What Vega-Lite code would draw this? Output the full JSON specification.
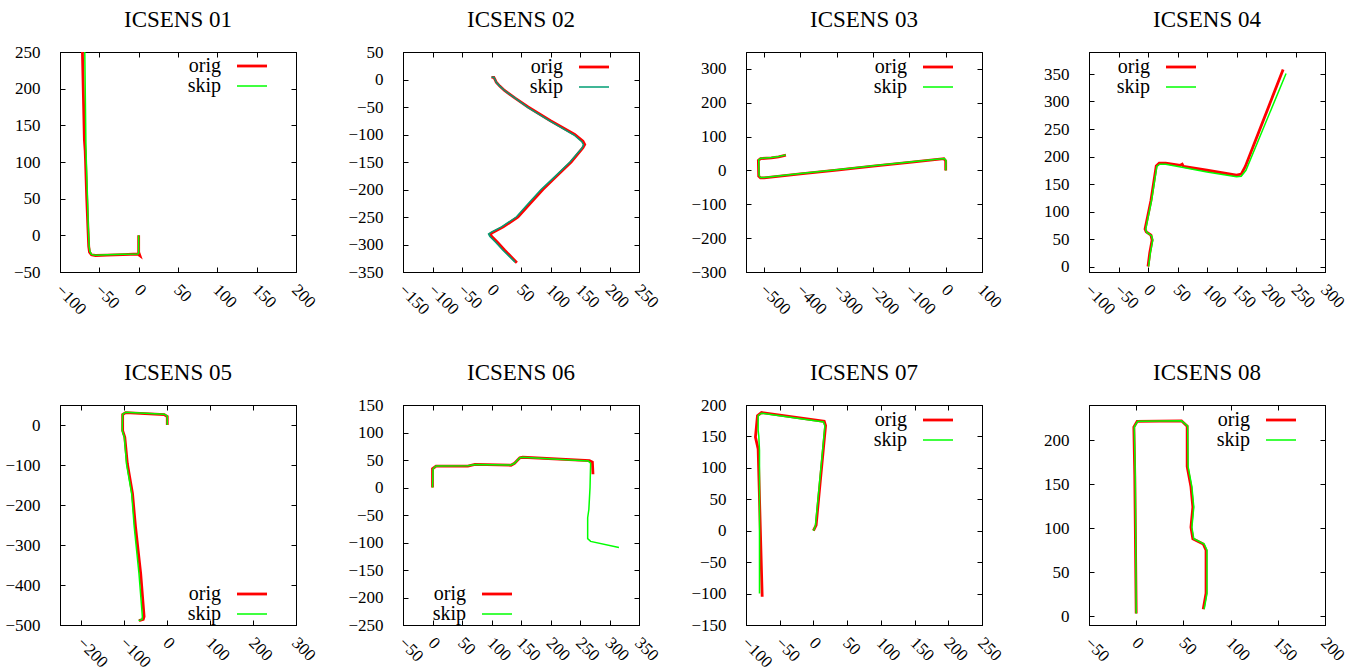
{
  "$schema": "https://vega.github.io/schema/vega-lite/v6.json",
  "background": "white",
  "padding": {"left": 4, "top": 8, "right": 5, "bottom": 5},
  "config": {
    "font": "Liberation Serif",
    "view": {"stroke": "black", "strokeWidth": 1},
    "style": {"guide-label": {"font": "Liberation Serif", "fontSize": 17, "fill": "black"}},
    "axis": {"grid": false, "domainColor": "black", "domainWidth": 1, "tickColor": "black", "tickSize": -5, "tickWidth": 1, "labelFont": "Liberation Serif", "labelFontSize": 17, "labelColor": "black", "labelFlush": false, "labelOverlap": false, "labelBound": false},
    "axisX": {"labelAngle": 45, "labelAlign": "left", "labelBaseline": "middle", "labelPadding": 20, "labelOffset": -2},
    "axisY": {"labelPadding": 25},
    "title": {"font": "Liberation Serif", "fontSize": 23, "fontWeight": "normal", "color": "black", "offset": 20, "anchor": "middle", "frame": "group"},
    "legend": {"labelFont": "Liberation Serif", "labelFontSize": 20, "labelColor": "black", "labelAlign": "right", "labelOffset": -41, "labelBaseline": "middle", "symbolType": "M-1.5,0H1.5", "symbolSize": 400, "symbolStrokeWidth": 2, "rowPadding": 0, "padding": 0, "labelLimit": 200}
  },
  "datasets": {
    "d1": [
      {"s":"orig","i":0,"x":0,"y":0},{"s":"orig","i":1,"x":0,"y":-23},{"s":"orig","i":2,"x":1.5,"y":-27.5},{"s":"orig","i":3,"x":-1,"y":-25.5},{"s":"orig","i":4,"x":-20,"y":-26.3},{"s":"orig","i":5,"x":-40,"y":-27},{"s":"orig","i":6,"x":-55,"y":-27.5},{"s":"orig","i":7,"x":-60,"y":-26.5},{"s":"orig","i":8,"x":-62.5,"y":-23},{"s":"orig","i":9,"x":-63.5,"y":-15},{"s":"orig","i":10,"x":-64.5,"y":10},{"s":"orig","i":11,"x":-66,"y":50},{"s":"orig","i":12,"x":-67.5,"y":100},{"s":"orig","i":13,"x":-68,"y":115},{"s":"orig","i":14,"x":-69,"y":130},{"s":"orig","i":15,"x":-71.5,"y":250},
      {"s":"skip","i":0,"x":0,"y":0},{"s":"skip","i":1,"x":0,"y":-24},{"s":"skip","i":2,"x":-1,"y":-25.5},{"s":"skip","i":3,"x":-20,"y":-25.8},{"s":"skip","i":4,"x":-40,"y":-26.5},{"s":"skip","i":5,"x":-55,"y":-27},{"s":"skip","i":6,"x":-60,"y":-26},{"s":"skip","i":7,"x":-62,"y":-22},{"s":"skip","i":8,"x":-63,"y":-15},{"s":"skip","i":9,"x":-64,"y":10},{"s":"skip","i":10,"x":-65,"y":50},{"s":"skip","i":11,"x":-66.5,"y":100},{"s":"skip","i":12,"x":-67,"y":120},{"s":"skip","i":13,"x":-68.5,"y":250}
    ],
    "d2": [
      {"s":"orig","i":0,"x":0,"y":4},{"s":"orig","i":1,"x":4,"y":4},{"s":"orig","i":2,"x":6,"y":0},{"s":"orig","i":3,"x":8,"y":-5},{"s":"orig","i":4,"x":14,"y":-12},{"s":"orig","i":5,"x":22,"y":-20},{"s":"orig","i":6,"x":40,"y":-34},{"s":"orig","i":7,"x":62,"y":-50},{"s":"orig","i":8,"x":100,"y":-75},{"s":"orig","i":9,"x":141,"y":-100},{"s":"orig","i":10,"x":155,"y":-112},{"s":"orig","i":11,"x":158,"y":-118},{"s":"orig","i":12,"x":155,"y":-124},{"s":"orig","i":13,"x":135,"y":-150},{"s":"orig","i":14,"x":110,"y":-176},{"s":"orig","i":15,"x":87,"y":-200},{"s":"orig","i":16,"x":65,"y":-226},{"s":"orig","i":17,"x":45,"y":-250},{"s":"orig","i":18,"x":20,"y":-268},{"s":"orig","i":19,"x":2,"y":-278},{"s":"orig","i":20,"x":-2,"y":-281},{"s":"orig","i":21,"x":0,"y":-285},{"s":"orig","i":22,"x":10,"y":-296},{"s":"orig","i":23,"x":22,"y":-310},{"s":"orig","i":24,"x":43,"y":-333},
      {"s":"skip","i":0,"x":0,"y":4},{"s":"skip","i":1,"x":4,"y":4},{"s":"skip","i":2,"x":6,"y":0},{"s":"skip","i":3,"x":8,"y":-5},{"s":"skip","i":4,"x":14,"y":-12},{"s":"skip","i":5,"x":22,"y":-20},{"s":"skip","i":6,"x":40,"y":-34},{"s":"skip","i":7,"x":62,"y":-51},{"s":"skip","i":8,"x":100,"y":-76},{"s":"skip","i":9,"x":140,"y":-101},{"s":"skip","i":10,"x":153,"y":-113},{"s":"skip","i":11,"x":156,"y":-119},{"s":"skip","i":12,"x":153,"y":-125},{"s":"skip","i":13,"x":133,"y":-150},{"s":"skip","i":14,"x":107,"y":-177},{"s":"skip","i":15,"x":84,"y":-200},{"s":"skip","i":16,"x":62,"y":-226},{"s":"skip","i":17,"x":42,"y":-250},{"s":"skip","i":18,"x":17,"y":-268},{"s":"skip","i":19,"x":-1,"y":-278},{"s":"skip","i":20,"x":-5,"y":-281},{"s":"skip","i":21,"x":-3,"y":-285},{"s":"skip","i":22,"x":7,"y":-296},{"s":"skip","i":23,"x":19,"y":-310},{"s":"skip","i":24,"x":40,"y":-332}
    ],
    "d3": [
      {"s":"orig","i":0,"x":0,"y":0},{"s":"orig","i":1,"x":0,"y":28},{"s":"orig","i":2,"x":-5,"y":35},{"s":"orig","i":3,"x":-100,"y":24},{"s":"orig","i":4,"x":-200,"y":13},{"s":"orig","i":5,"x":-300,"y":1},{"s":"orig","i":6,"x":-400,"y":-10},{"s":"orig","i":7,"x":-500,"y":-22},{"s":"orig","i":8,"x":-510,"y":-22},{"s":"orig","i":9,"x":-515,"y":-17},{"s":"orig","i":10,"x":-516,"y":30},{"s":"orig","i":11,"x":-510,"y":35},{"s":"orig","i":12,"x":-480,"y":37},{"s":"orig","i":13,"x":-460,"y":40},{"s":"orig","i":14,"x":-440,"y":45},
      {"s":"skip","i":0,"x":0,"y":0},{"s":"skip","i":1,"x":1,"y":29},{"s":"skip","i":2,"x":-4,"y":35},{"s":"skip","i":3,"x":-100,"y":25},{"s":"skip","i":4,"x":-200,"y":14},{"s":"skip","i":5,"x":-300,"y":2},{"s":"skip","i":6,"x":-400,"y":-9},{"s":"skip","i":7,"x":-500,"y":-21},{"s":"skip","i":8,"x":-510,"y":-21},{"s":"skip","i":9,"x":-514,"y":-15},{"s":"skip","i":10,"x":-515,"y":31},{"s":"skip","i":11,"x":-509,"y":36},{"s":"skip","i":12,"x":-480,"y":38},{"s":"skip","i":13,"x":-460,"y":41},{"s":"skip","i":14,"x":-440,"y":46}
    ],
    "d4": [
      {"s":"orig","i":0,"x":0,"y":0},{"s":"orig","i":1,"x":3,"y":25},{"s":"orig","i":2,"x":7,"y":48},{"s":"orig","i":3,"x":5,"y":57},{"s":"orig","i":4,"x":-3,"y":63},{"s":"orig","i":5,"x":-5,"y":68},{"s":"orig","i":6,"x":5,"y":120},{"s":"orig","i":7,"x":14,"y":183},{"s":"orig","i":8,"x":19,"y":188},{"s":"orig","i":9,"x":30,"y":188},{"s":"orig","i":10,"x":55,"y":184},{"s":"orig","i":11,"x":58,"y":186},{"s":"orig","i":12,"x":60,"y":182},{"s":"orig","i":13,"x":100,"y":175},{"s":"orig","i":14,"x":150,"y":166},{"s":"orig","i":15,"x":158,"y":168},{"s":"orig","i":16,"x":165,"y":182},{"s":"orig","i":17,"x":229,"y":358},
      {"s":"skip","i":0,"x":1,"y":0},{"s":"skip","i":1,"x":4,"y":25},{"s":"skip","i":2,"x":8,"y":48},{"s":"skip","i":3,"x":6,"y":56},{"s":"skip","i":4,"x":-2,"y":62},{"s":"skip","i":5,"x":-4,"y":67},{"s":"skip","i":6,"x":6,"y":120},{"s":"skip","i":7,"x":15,"y":182},{"s":"skip","i":8,"x":20,"y":186},{"s":"skip","i":9,"x":30,"y":186},{"s":"skip","i":10,"x":60,"y":180},{"s":"skip","i":11,"x":100,"y":172},{"s":"skip","i":12,"x":150,"y":163},{"s":"skip","i":13,"x":158,"y":164},{"s":"skip","i":14,"x":166,"y":175},{"s":"skip","i":15,"x":234,"y":351}
    ],
    "d5": [
      {"s":"orig","i":0,"x":0,"y":0},{"s":"orig","i":1,"x":0,"y":21},{"s":"orig","i":2,"x":-7,"y":26},{"s":"orig","i":3,"x":-97,"y":31},{"s":"orig","i":4,"x":-104,"y":26},{"s":"orig","i":5,"x":-104,"y":-14},{"s":"orig","i":6,"x":-99,"y":-31},{"s":"orig","i":7,"x":-93,"y":-97},{"s":"orig","i":8,"x":-81,"y":-172},{"s":"orig","i":9,"x":-74,"y":-255},{"s":"orig","i":10,"x":-62,"y":-371},{"s":"orig","i":11,"x":-54,"y":-479},{"s":"orig","i":12,"x":-56,"y":-486},{"s":"orig","i":13,"x":-66,"y":-489},
      {"s":"skip","i":0,"x":0,"y":0},{"s":"skip","i":1,"x":0,"y":22},{"s":"skip","i":2,"x":-7,"y":27},{"s":"skip","i":3,"x":-97,"y":32},{"s":"skip","i":4,"x":-104,"y":27},{"s":"skip","i":5,"x":-105,"y":-14},{"s":"skip","i":6,"x":-100,"y":-31},{"s":"skip","i":7,"x":-95,"y":-97},{"s":"skip","i":8,"x":-83,"y":-172},{"s":"skip","i":9,"x":-77,"y":-255},{"s":"skip","i":10,"x":-66,"y":-371},{"s":"skip","i":11,"x":-58,"y":-479},{"s":"skip","i":12,"x":-59,"y":-486},{"s":"skip","i":13,"x":-67,"y":-489}
    ],
    "d6": [
      {"s":"orig","i":0,"x":0,"y":0},{"s":"orig","i":1,"x":0,"y":34},{"s":"orig","i":2,"x":6,"y":39},{"s":"orig","i":3,"x":60,"y":39},{"s":"orig","i":4,"x":72,"y":42},{"s":"orig","i":5,"x":133,"y":40.5},{"s":"orig","i":6,"x":139,"y":44},{"s":"orig","i":7,"x":148,"y":54},{"s":"orig","i":8,"x":153,"y":55},{"s":"orig","i":9,"x":266,"y":49},{"s":"orig","i":10,"x":271,"y":46},{"s":"orig","i":11,"x":272,"y":24},
      {"s":"skip","i":0,"x":0,"y":0},{"s":"skip","i":1,"x":1,"y":34},{"s":"skip","i":2,"x":6,"y":39},{"s":"skip","i":3,"x":60,"y":39.5},{"s":"skip","i":4,"x":72,"y":42},{"s":"skip","i":5,"x":133,"y":41},{"s":"skip","i":6,"x":139,"y":44},{"s":"skip","i":7,"x":148,"y":54},{"s":"skip","i":8,"x":153,"y":55},{"s":"skip","i":9,"x":264,"y":48},{"s":"skip","i":10,"x":268,"y":44},{"s":"skip","i":11,"x":267,"y":0},{"s":"skip","i":12,"x":265,"y":-40},{"s":"skip","i":13,"x":263,"y":-55},{"s":"skip","i":14,"x":263,"y":-93},{"s":"skip","i":15,"x":268,"y":-98},{"s":"skip","i":16,"x":316,"y":-109}
    ],
    "d7": [
      {"s":"orig","i":0,"x":0,"y":0},{"s":"orig","i":1,"x":4,"y":9},{"s":"orig","i":2,"x":18,"y":167},{"s":"orig","i":3,"x":16,"y":174},{"s":"orig","i":4,"x":-77,"y":188},{"s":"orig","i":5,"x":-83,"y":183},{"s":"orig","i":6,"x":-85,"y":160},{"s":"orig","i":7,"x":-86,"y":149},{"s":"orig","i":8,"x":-82,"y":130},{"s":"orig","i":9,"x":-76,"y":-105},
      {"s":"skip","i":0,"x":0,"y":0},{"s":"skip","i":1,"x":3,"y":8},{"s":"skip","i":2,"x":17,"y":167},{"s":"skip","i":3,"x":15,"y":173},{"s":"skip","i":4,"x":-77,"y":187},{"s":"skip","i":5,"x":-82,"y":183},{"s":"skip","i":6,"x":-82,"y":160},{"s":"skip","i":7,"x":-81,"y":150},{"s":"skip","i":8,"x":-80,"y":128},{"s":"skip","i":9,"x":-80,"y":-100}
    ],
    "d8": [
      {"s":"orig","i":0,"x":0,"y":3},{"s":"orig","i":1,"x":-1.5,"y":160},{"s":"orig","i":2,"x":-2.5,"y":215},{"s":"orig","i":3,"x":1,"y":221.5},{"s":"orig","i":4,"x":48,"y":222},{"s":"orig","i":5,"x":54,"y":216},{"s":"orig","i":6,"x":54,"y":170},{"s":"orig","i":7,"x":58,"y":147},{"s":"orig","i":8,"x":60,"y":124},{"s":"orig","i":9,"x":58,"y":101},{"s":"orig","i":10,"x":60,"y":88},{"s":"orig","i":11,"x":71,"y":82},{"s":"orig","i":12,"x":74,"y":75},{"s":"orig","i":13,"x":74,"y":26},{"s":"orig","i":14,"x":71,"y":8},
      {"s":"skip","i":0,"x":0,"y":3},{"s":"skip","i":1,"x":-1,"y":160},{"s":"skip","i":2,"x":-2,"y":215},{"s":"skip","i":3,"x":1.5,"y":221.5},{"s":"skip","i":4,"x":48,"y":222},{"s":"skip","i":5,"x":54.5,"y":216},{"s":"skip","i":6,"x":55,"y":170},{"s":"skip","i":7,"x":59,"y":147},{"s":"skip","i":8,"x":61,"y":124},{"s":"skip","i":9,"x":59,"y":101},{"s":"skip","i":10,"x":61,"y":88},{"s":"skip","i":11,"x":72,"y":82},{"s":"skip","i":12,"x":75,"y":75},{"s":"skip","i":13,"x":75,"y":26},{"s":"skip","i":14,"x":72,"y":8}
    ]
  },
  "columns": 4,
  "spacing": {"row": 133, "column": 107},
  "bounds": "flush",
  "resolve": {"scale": {"color": "independent"}, "legend": {"color": "independent"}},
  "concat": [
    {"title": {"text": "ICSENS 01", "offset": 11}, "width": 236, "height": 220, "data": {"name": "d1"},
     "layer": [
       {"mark": {"type": "line", "clip": true},
        "encoding": {
          "x": {"field": "x", "type": "quantitative", "scale": {"domain": [-100, 200], "nice": false, "zero": false}, "axis": {"title": null, "values": [-100, -50, 0, 50, 100, 150, 200]}},
          "y": {"field": "y", "type": "quantitative", "scale": {"domain": [-50, 250], "nice": false, "zero": false}, "axis": {"title": null, "values": [-50, 0, 50, 100, 150, 200, 250]}},
          "color": {"field": "s", "type": "nominal", "scale": {"domain": ["orig", "skip"], "range": ["#ff0000", "#00ff00"]}, "legend": {"title": null, "orient": "none", "legendX": 182, "legendY": 4, "encode": {"symbols": {"update": {"stroke": {"signal": "datum.value === 'orig' ? '#ff0000' : '#00ff00'"}, "strokeWidth": {"signal": "datum.value === 'orig' ? 2.8 : 1.5"}}}}}},
          "strokeWidth": {"condition": {"test": "datum.s === 'orig'", "value": 2.8}, "value": 1.5},
          "order": {"field": "i", "type": "quantitative"}
        }},
       {"mark": {"type": "point", "opacity": 0},
        "encoding": {
          "x": {"field": "x", "type": "quantitative", "axis": {"title": null, "orient": "top", "labels": false, "values": [-100, -50, 0, 50, 100, 150, 200]}},
          "y": {"field": "y", "type": "quantitative", "axis": {"title": null, "orient": "right", "labels": false, "values": [-50, 0, 50, 100, 150, 200, 250]}}
        }}
     ],
     "resolve": {"axis": {"x": "independent", "y": "independent"}}},
    {"title": {"text": "ICSENS 02", "offset": 11}, "width": 236, "height": 220, "data": {"name": "d2"},
     "layer": [
       {"mark": {"type": "line", "clip": true},
        "encoding": {
          "x": {"field": "x", "type": "quantitative", "scale": {"domain": [-150, 250], "nice": false, "zero": false}, "axis": {"title": null, "values": [-150, -100, -50, 0, 50, 100, 150, 200, 250]}},
          "y": {"field": "y", "type": "quantitative", "scale": {"domain": [-350, 50], "nice": false, "zero": false}, "axis": {"title": null, "values": [-350, -300, -250, -200, -150, -100, -50, 0, 50]}},
          "color": {"field": "s", "type": "nominal", "scale": {"domain": ["orig", "skip"], "range": ["#ff0000", "#009e73"]}, "legend": {"title": null, "orient": "none", "legendX": 181, "legendY": 5, "encode": {"symbols": {"update": {"stroke": {"signal": "datum.value === 'orig' ? '#ff0000' : '#009e73'"}, "strokeWidth": {"signal": "datum.value === 'orig' ? 2.8 : 1.5"}}}}}},
          "strokeWidth": {"condition": {"test": "datum.s === 'orig'", "value": 2.8}, "value": 1.5},
          "order": {"field": "i", "type": "quantitative"}
        }},
       {"mark": {"type": "point", "opacity": 0},
        "encoding": {
          "x": {"field": "x", "type": "quantitative", "axis": {"title": null, "orient": "top", "labels": false, "values": [-150, -100, -50, 0, 50, 100, 150, 200, 250]}},
          "y": {"field": "y", "type": "quantitative", "axis": {"title": null, "orient": "right", "labels": false, "values": [-350, -300, -250, -200, -150, -100, -50, 0, 50]}}
        }}
     ],
     "resolve": {"axis": {"x": "independent", "y": "independent"}}},
    {"title": {"text": "ICSENS 03", "offset": 20}, "width": 236, "height": 220, "data": {"name": "d3"},
     "layer": [
       {"mark": {"type": "line", "clip": true},
        "encoding": {
          "x": {"field": "x", "type": "quantitative", "scale": {"domain": [-550, 100], "nice": false, "zero": false}, "axis": {"title": null, "values": [-500, -400, -300, -200, -100, 0, 100]}},
          "y": {"field": "y", "type": "quantitative", "scale": {"domain": [-300, 350], "nice": false, "zero": false}, "axis": {"title": null, "values": [-300, -200, -100, 0, 100, 200, 300]}},
          "color": {"field": "s", "type": "nominal", "scale": {"domain": ["orig", "skip"], "range": ["#ff0000", "#00ff00"]}, "legend": {"title": null, "orient": "none", "legendX": 182, "legendY": 5, "encode": {"symbols": {"update": {"stroke": {"signal": "datum.value === 'orig' ? '#ff0000' : '#00ff00'"}, "strokeWidth": {"signal": "datum.value === 'orig' ? 2.8 : 1.5"}}}}}},
          "strokeWidth": {"condition": {"test": "datum.s === 'orig'", "value": 2.8}, "value": 1.5},
          "order": {"field": "i", "type": "quantitative"}
        }},
       {"mark": {"type": "point", "opacity": 0},
        "encoding": {
          "x": {"field": "x", "type": "quantitative", "axis": {"title": null, "orient": "top", "labels": false, "values": [-500, -400, -300, -200, -100, 0, 100]}},
          "y": {"field": "y", "type": "quantitative", "axis": {"title": null, "orient": "right", "labels": false, "values": [-300, -200, -100, 0, 100, 200, 300]}}
        }}
     ],
     "resolve": {"axis": {"x": "independent", "y": "independent"}}},
    {"title": {"text": "ICSENS 04", "offset": 20}, "width": 236, "height": 220, "data": {"name": "d4"},
     "layer": [
       {"mark": {"type": "line", "clip": true},
        "encoding": {
          "x": {"field": "x", "type": "quantitative", "scale": {"domain": [-100, 300], "nice": false, "zero": false}, "axis": {"title": null, "values": [-100, -50, 0, 50, 100, 150, 200, 250, 300]}},
          "y": {"field": "y", "type": "quantitative", "scale": {"domain": [-10, 390], "nice": false, "zero": false}, "axis": {"title": null, "values": [0, 50, 100, 150, 200, 250, 300, 350]}},
          "color": {"field": "s", "type": "nominal", "scale": {"domain": ["orig", "skip"], "range": ["#ff0000", "#00ff00"]}, "legend": {"title": null, "orient": "none", "legendX": 82, "legendY": 5, "encode": {"symbols": {"update": {"stroke": {"signal": "datum.value === 'orig' ? '#ff0000' : '#00ff00'"}, "strokeWidth": {"signal": "datum.value === 'orig' ? 2.8 : 1.5"}}}}}},
          "strokeWidth": {"condition": {"test": "datum.s === 'orig'", "value": 2.8}, "value": 1.5},
          "order": {"field": "i", "type": "quantitative"}
        }},
       {"mark": {"type": "point", "opacity": 0},
        "encoding": {
          "x": {"field": "x", "type": "quantitative", "axis": {"title": null, "orient": "top", "labels": false, "values": [-100, -50, 0, 50, 100, 150, 200, 250, 300]}},
          "y": {"field": "y", "type": "quantitative", "axis": {"title": null, "orient": "right", "labels": false, "values": [0, 50, 100, 150, 200, 250, 300, 350]}}
        }}
     ],
     "resolve": {"axis": {"x": "independent", "y": "independent"}}},
    {"title": {"text": "ICSENS 05", "offset": 20}, "width": 236, "height": 220, "data": {"name": "d5"},
     "layer": [
       {"mark": {"type": "line", "clip": true},
        "encoding": {
          "x": {"field": "x", "type": "quantitative", "scale": {"domain": [-250, 300], "nice": false, "zero": false}, "axis": {"title": null, "values": [-200, -100, 0, 100, 200, 300]}},
          "y": {"field": "y", "type": "quantitative", "scale": {"domain": [-500, 50], "nice": false, "zero": false}, "axis": {"title": null, "values": [-500, -400, -300, -200, -100, 0]}},
          "color": {"field": "s", "type": "nominal", "scale": {"domain": ["orig", "skip"], "range": ["#ff0000", "#00ff00"]}, "legend": {"title": null, "orient": "none", "legendX": 182, "legendY": 179, "encode": {"symbols": {"update": {"stroke": {"signal": "datum.value === 'orig' ? '#ff0000' : '#00ff00'"}, "strokeWidth": {"signal": "datum.value === 'orig' ? 2.8 : 1.5"}}}}}},
          "strokeWidth": {"condition": {"test": "datum.s === 'orig'", "value": 2.8}, "value": 1.5},
          "order": {"field": "i", "type": "quantitative"}
        }},
       {"mark": {"type": "point", "opacity": 0},
        "encoding": {
          "x": {"field": "x", "type": "quantitative", "axis": {"title": null, "orient": "top", "labels": false, "values": [-200, -100, 0, 100, 200, 300]}},
          "y": {"field": "y", "type": "quantitative", "axis": {"title": null, "orient": "right", "labels": false, "values": [-500, -400, -300, -200, -100, 0]}}
        }}
     ],
     "resolve": {"axis": {"x": "independent", "y": "independent"}}},
    {"title": {"text": "ICSENS 06", "offset": 11}, "width": 236, "height": 220, "data": {"name": "d6"},
     "layer": [
       {"mark": {"type": "line", "clip": true},
        "encoding": {
          "x": {"field": "x", "type": "quantitative", "scale": {"domain": [-50, 350], "nice": false, "zero": false}, "axis": {"title": null, "values": [-50, 0, 50, 100, 150, 200, 250, 300, 350]}},
          "y": {"field": "y", "type": "quantitative", "scale": {"domain": [-250, 150], "nice": false, "zero": false}, "axis": {"title": null, "values": [-250, -200, -150, -100, -50, 0, 50, 100, 150]}},
          "color": {"field": "s", "type": "nominal", "scale": {"domain": ["orig", "skip"], "range": ["#ff0000", "#00ff00"]}, "legend": {"title": null, "orient": "none", "legendX": 84, "legendY": 179, "encode": {"symbols": {"update": {"stroke": {"signal": "datum.value === 'orig' ? '#ff0000' : '#00ff00'"}, "strokeWidth": {"signal": "datum.value === 'orig' ? 2.8 : 1.5"}}}}}},
          "strokeWidth": {"condition": {"test": "datum.s === 'orig'", "value": 2.8}, "value": 1.5},
          "order": {"field": "i", "type": "quantitative"}
        }},
       {"mark": {"type": "point", "opacity": 0},
        "encoding": {
          "x": {"field": "x", "type": "quantitative", "axis": {"title": null, "orient": "top", "labels": false, "values": [-50, 0, 50, 100, 150, 200, 250, 300, 350]}},
          "y": {"field": "y", "type": "quantitative", "axis": {"title": null, "orient": "right", "labels": false, "values": [-250, -200, -150, -100, -50, 0, 50, 100, 150]}}
        }}
     ],
     "resolve": {"axis": {"x": "independent", "y": "independent"}}},
    {"title": {"text": "ICSENS 07", "offset": 11}, "width": 236, "height": 220, "data": {"name": "d7"},
     "layer": [
       {"mark": {"type": "line", "clip": true},
        "encoding": {
          "x": {"field": "x", "type": "quantitative", "scale": {"domain": [-100, 250], "nice": false, "zero": false}, "axis": {"title": null, "values": [-100, -50, 0, 50, 100, 150, 200, 250]}},
          "y": {"field": "y", "type": "quantitative", "scale": {"domain": [-150, 200], "nice": false, "zero": false}, "axis": {"title": null, "values": [-150, -100, -50, 0, 50, 100, 150, 200]}},
          "color": {"field": "s", "type": "nominal", "scale": {"domain": ["orig", "skip"], "range": ["#ff0000", "#00ff00"]}, "legend": {"title": null, "orient": "none", "legendX": 182, "legendY": 5, "encode": {"symbols": {"update": {"stroke": {"signal": "datum.value === 'orig' ? '#ff0000' : '#00ff00'"}, "strokeWidth": {"signal": "datum.value === 'orig' ? 2.8 : 1.5"}}}}}},
          "strokeWidth": {"condition": {"test": "datum.s === 'orig'", "value": 2.8}, "value": 1.5},
          "order": {"field": "i", "type": "quantitative"}
        }},
       {"mark": {"type": "point", "opacity": 0},
        "encoding": {
          "x": {"field": "x", "type": "quantitative", "axis": {"title": null, "orient": "top", "labels": false, "values": [-100, -50, 0, 50, 100, 150, 200, 250]}},
          "y": {"field": "y", "type": "quantitative", "axis": {"title": null, "orient": "right", "labels": false, "values": [-150, -100, -50, 0, 50, 100, 150, 200]}}
        }}
     ],
     "resolve": {"axis": {"x": "independent", "y": "independent"}}},
    {"title": {"text": "ICSENS 08", "offset": 20}, "width": 236, "height": 220, "data": {"name": "d8"},
     "layer": [
       {"mark": {"type": "line", "clip": true},
        "encoding": {
          "x": {"field": "x", "type": "quantitative", "scale": {"domain": [-50, 200], "nice": false, "zero": false}, "axis": {"title": null, "values": [-50, 0, 50, 100, 150, 200]}},
          "y": {"field": "y", "type": "quantitative", "scale": {"domain": [-10, 240], "nice": false, "zero": false}, "axis": {"title": null, "values": [0, 50, 100, 150, 200]}},
          "color": {"field": "s", "type": "nominal", "scale": {"domain": ["orig", "skip"], "range": ["#ff0000", "#00ff00"]}, "legend": {"title": null, "orient": "none", "legendX": 182, "legendY": 5, "encode": {"symbols": {"update": {"stroke": {"signal": "datum.value === 'orig' ? '#ff0000' : '#00ff00'"}, "strokeWidth": {"signal": "datum.value === 'orig' ? 2.8 : 1.5"}}}}}},
          "strokeWidth": {"condition": {"test": "datum.s === 'orig'", "value": 2.8}, "value": 1.5},
          "order": {"field": "i", "type": "quantitative"}
        }},
       {"mark": {"type": "point", "opacity": 0},
        "encoding": {
          "x": {"field": "x", "type": "quantitative", "axis": {"title": null, "orient": "top", "labels": false, "values": [-50, 0, 50, 100, 150, 200]}},
          "y": {"field": "y", "type": "quantitative", "axis": {"title": null, "orient": "right", "labels": false, "values": [0, 50, 100, 150, 200]}}
        }}
     ],
     "resolve": {"axis": {"x": "independent", "y": "independent"}}}
  ]
}
